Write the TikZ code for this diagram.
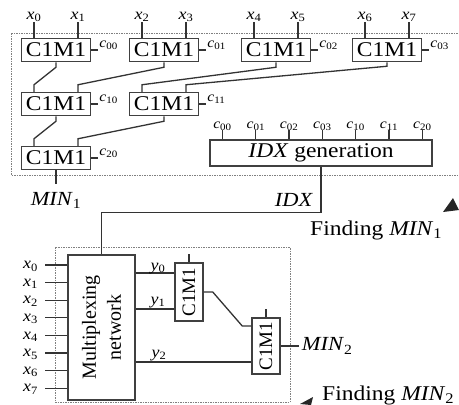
\documentclass[tikz,border=0pt]{standalone}
\usepackage{fontspec}
\setmainfont{Liberation Serif}[FakeStretch=1.12]
\newfontfamily\rotfont{Liberation Serif}
\usetikzlibrary{calc}
\newcommand\sv[2]{\textit{#1}\textsubscript{#2}}
\begin{document}
\begin{tikzpicture}[x=1pt,y=-1pt,
  wire/.style={draw=black!80, line width=1.3pt},
  frame/.style={draw=black!50, line width=0.8pt, dash pattern=on 1.5pt off 1pt},
  cbox/.style={draw=black!75, line width=1.5pt, minimum width=69pt, minimum height=23pt, inner sep=0pt, font=\fontsize{21}{21}\selectfont},
  vbox/.style={draw=black!75, line width=1.5pt, minimum width=28pt, inner sep=0pt},
  vtxt/.style={rotate=90, inner sep=0pt, font=\rotfont\fontsize{19}{19}\selectfont},
  xlab/.style={inner sep=0pt, font=\fontsize{16}{16}\selectfont},
  clab/.style={inner sep=0pt, font=\fontsize{14}{14}\selectfont, anchor=base west},
  big/.style={inner sep=0pt, font=\fontsize{20}{20}\selectfont},
  huge/.style={inner sep=0pt, font=\fontsize{21}{21}\selectfont},
]
\useasboundingbox (0,0) rectangle (459,405);
\clip (0,0) rectangle (459,405);

% frames
\draw[frame] (11,33) rectangle (470,175);
\draw[frame] (55,247) rectangle (290,402);

% top tree
\node[cbox] (b1) at (56,50) {C1M1};
\node[cbox] (b2) at (164,50) {C1M1};
\node[cbox] (b3) at (276,50) {C1M1};
\node[cbox] (b4) at (387,50) {C1M1};
\node[cbox] (b5) at (56,104) {C1M1};
\node[cbox] (b6) at (164,104) {C1M1};
\node[cbox] (b7) at (56,158) {C1M1};

\foreach \b/\i/\j in {b1/0/1, b2/2/3, b3/4/5, b4/6/7} {
  \node[xlab, anchor=base] (tx\i) at ($(\b.north)+(-22,-18.5)$) {\sv{x}{\i}};
  \node[xlab, anchor=base] (tx\j) at ($(\b.north)+(22,-18.5)$) {\sv{x}{\j}};
  \draw[wire] (tx\i.south) -- (tx\i.south |- \b.north);
  \draw[wire] (tx\j.south) -- (tx\j.south |- \b.north);
}

\draw[wire] (b1.south) -- ++(0,5) -- ($(b5.north)+(-22,-7)$) -- ($(b5.north)+(-22,0)$);
\draw[wire] (b2.south) -- ++(0,5) -- ($(b5.north)+(22,-7)$) -- ($(b5.north)+(22,0)$);
\draw[wire] (b3.south) -- ++(0,5) -- ($(b6.north)+(-22,-7)$) -- ($(b6.north)+(-22,0)$);
\draw[wire] (b4.south) -- ++(0,4) -- ($(b6.north)+(22,-7)$) -- ($(b6.north)+(22,0)$);
\draw[wire] (b5.south) -- ++(0,5) -- ($(b7.north)+(-22,-7)$) -- ($(b7.north)+(-22,0)$);
\draw[wire] (b6.south) -- ++(0,5) -- ($(b7.north)+(22,-7)$) -- ($(b7.north)+(22,0)$);

\foreach \b/\k in {b1/00, b2/01, b3/02, b4/03, b5/10, b6/11, b7/20} {
  \node[clab] (c\k) at ($(\b.east)+(8,-3)$) {\sv{c}{\k}};
  \draw[wire] (\b.east) -- ($(c\k.west |- \b.east)+(-1,0)$);
}

\node[big, anchor=base] (min1) at (56,205) {\sv{MIN}{1}};
\draw[wire] (b7.south) -- ($(b7.south)+(0,14)$);

% IDX generation
\node[draw=black!75, line width=1.5pt, minimum width=222pt, minimum height=26pt, inner sep=0pt, font=\fontsize{21}{21}\selectfont] (idx) at (321,153) {\textit{IDX} generation};
\foreach \n [count=\i from 0] in {00,01,02,03,10,11,20} {
  \node[clab, anchor=base] (g\n) at ({222.5+33.3*\i},128) {\sv{c}{\n}};
  \draw[wire] (g\n.south) -- (g\n.south |- idx.north);
}

% multiplexing network
\node[draw=black!75, line width=1.5pt, minimum width=67pt, minimum height=145pt, inner sep=0pt] (mux) at (101.5,327.5) {};
\node[rotate=90, align=center, inner sep=0pt, font=\rotfont\fontsize{20}{25}\selectfont] (muxt) at (mux.center) {Multiplexing\\network};

\draw[wire] (idx.south) -- ++(0,46) -| (mux.north);
\node[big, anchor=base] (idxl) at (294,206) {\textit{IDX}};

\foreach \i in {0,...,7} {
  \coordinate (ms\i) at (45,{265+17.6*\i});
  \node[xlab, anchor=base east] (mx\i) at ($(ms\i)+(-7,3.6)$) {\sv{x}{\i}};
  \draw[wire] (ms\i) -- (ms\i -| mux.west);
}

% second stage comparators
\node[vbox, minimum height=58pt] (v1) at (189,292) {};
\node[vtxt] (v1t) at (v1.center) {C1M1};
\node[vbox, minimum height=56pt] (v2) at (266,346) {};
\node[vtxt] (v2t) at (v2.center) {C1M1};

\coordinate (o0) at (mux.east |- 0,273);
\coordinate (o1) at (mux.east |- 0,309);
\coordinate (o2) at (mux.east |- 0,362);
\draw[wire] (o0) -- (o0 -| v1.west);
\draw[wire] (o1) -- (o1 -| v1.west);
\draw[wire] (o2) -- (o2 -| v2.west);
\node[xlab, anchor=base] (y0) at (158,270) {\sv{y}{0}};
\node[xlab, anchor=base] (y1) at (158,304) {\sv{y}{1}};
\node[xlab, anchor=base] (y2) at (159,357) {\sv{y}{2}};

\draw[wire] (v1.north) -- ++(0,-8);
\draw[wire] (v2.north) -- ++(0,-8);
\draw[wire] (v1.east) -- ++(9,0) -- ($(v2.west)+(-9,-20)$) -- ($(v2.west)+(0,-20)$);

\node[big, anchor=west] (min2) at ($(v2.east)+(21,0)$) {\sv{MIN}{2}};
\draw[wire] (v2.east) -- ($(min2.west)+(-3,0)$);

% captions
\node[huge, anchor=base west] (f1) at (310,235) {Finding \sv{MIN}{1}};
\node[huge, anchor=base west] (f2) at (322,400) {Finding \sv{MIN}{2}};
\fill[black!85] (453,198) -- (443,212) -- (459,210) -- cycle;
\fill[black!85] (313,397) -- (300,404) -- (311,405) -- cycle;
\end{tikzpicture}
\end{document}
